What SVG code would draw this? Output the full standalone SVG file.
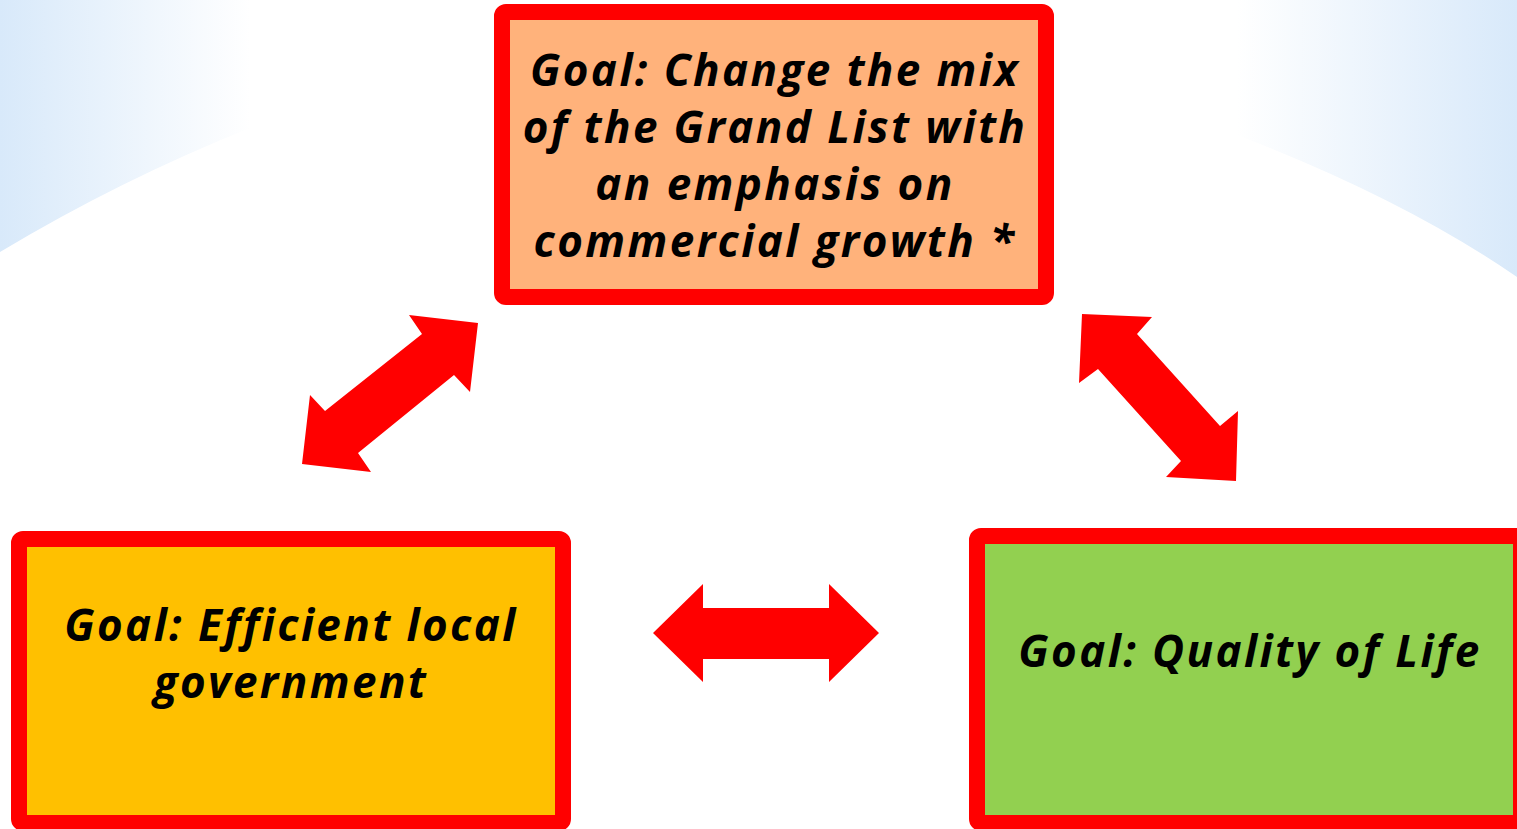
<svg xmlns="http://www.w3.org/2000/svg" width="1517" height="829" viewBox="0 0 1517 829">
  <defs>
    <linearGradient id="bg" x1="0" y1="0" x2="1517" y2="0" gradientUnits="userSpaceOnUse">
      <stop offset="0" stop-color="#d8e9fa"/>
      <stop offset="0.165" stop-color="#ffffff"/>
      <stop offset="0.815" stop-color="#ffffff"/>
      <stop offset="1" stop-color="#d8e9fa"/>
    </linearGradient>
    <style>
      .box { stroke: #ff0000; stroke-width: 16; }
      .lbl { font-family: "Open Sans", "Noto Sans", "DejaVu Sans", sans-serif; font-weight: 700; font-style: italic; font-size: 44px; letter-spacing: 2.4px; fill: #000000; text-anchor: middle; }
      .arrow { fill: #ff0000; }
    </style>
  </defs>

  <rect x="0" y="0" width="1517" height="829" fill="url(#bg)"/>
  <path d="M0,252 Q120,180 250,128 Q760,-80 1245,138 Q1407,201 1517,277 L1517,829 L0,829 Z" fill="#ffffff"/>

  <g id="connectors">
    <polygon class="arrow" points="478,323 409,315 422,334 325,411 310,395 302,464 371,472 358,453 454,375 470,392"/>
    <polygon class="arrow" points="1082,314 1152,317 1137,334 1220,426 1238,411 1236,481 1166,477 1181,461 1098,369 1079,383"/>
    <polygon class="arrow" points="653,633 703,584 703,608 829,608 829,584 879,633 829,682 829,659 703,659 703,682"/>
  </g>

  <g id="node-top">
    <rect class="box" x="502" y="12" width="544" height="285" rx="4" fill="#ffb27b"/>
    <text class="lbl" x="775" y="86">Goal: Change the mix</text>
    <text class="lbl" x="775" y="143">of the Grand List with</text>
    <text class="lbl" x="775" y="200">an emphasis on</text>
    <text class="lbl" x="775" y="257">commercial growth *</text>
  </g>

  <g id="node-left">
    <rect class="box" x="19" y="539" width="544" height="284" rx="4" fill="#ffc000"/>
    <text class="lbl" x="291" y="641">Goal: Efficient local</text>
    <text class="lbl" x="291" y="698">government</text>
  </g>

  <g id="node-right">
    <rect class="box" x="977" y="536" width="544" height="287" rx="4" fill="#92d050"/>
    <text class="lbl" x="1250" y="667">Goal: Quality of Life</text>
  </g>
</svg>
